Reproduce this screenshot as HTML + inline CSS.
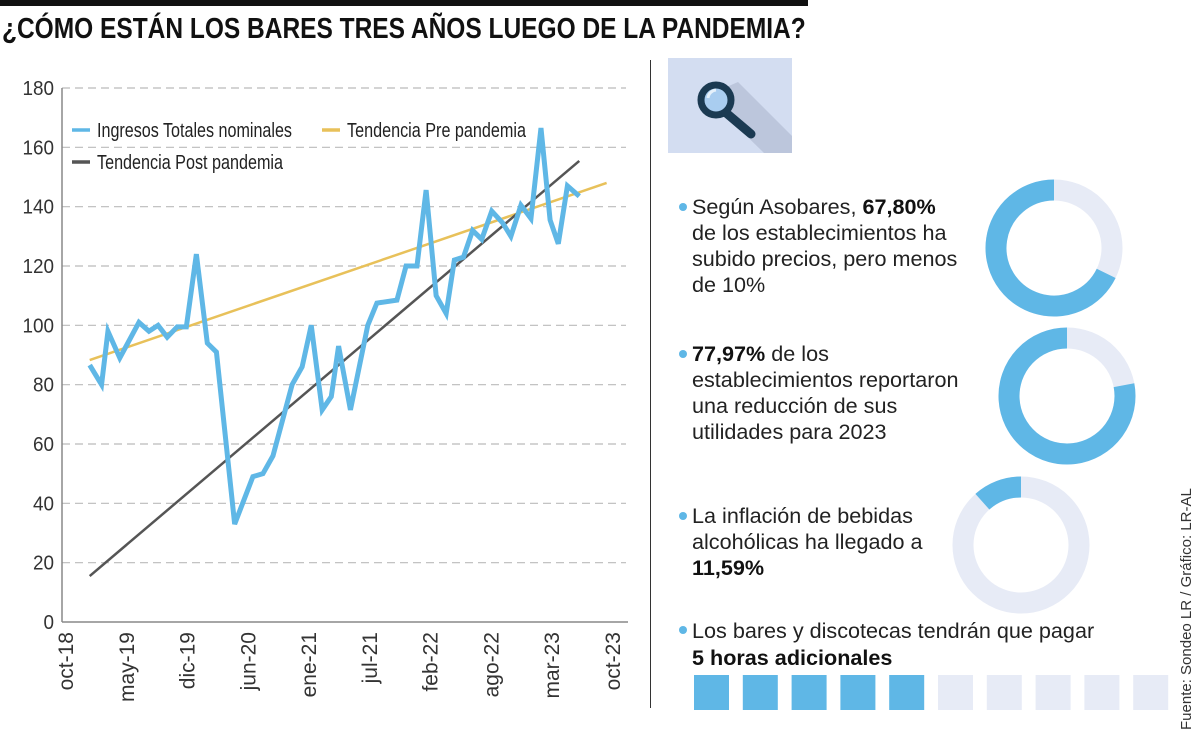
<!DOCTYPE html>
<html><head><meta charset="utf-8"><style>
body{margin:0;width:1200px;height:737px;background:#fff;overflow:hidden;font-family:"Liberation Sans",sans-serif;position:relative}
.t{position:absolute;font-size:21.6px;line-height:26px;color:#222;white-space:nowrap}
.t b{color:#111}
.dot{position:absolute;width:8px;height:8px;border-radius:50%;background:#5fb7e6}
</style></head><body>
<div style="position:absolute;left:0;top:0;width:808px;height:6px;background:#111"></div>
<div style="position:absolute;left:2px;top:13px;font-weight:bold;font-size:29px;color:#111;white-space:nowrap;transform:scaleX(0.845);transform-origin:left">¿CÓMO ESTÁN LOS BARES TRES AÑOS LUEGO DE LA PANDEMIA?</div>
<svg id="chart" width="650" height="737" style="position:absolute;left:0;top:0"></svg>
<div style="position:absolute;left:650px;top:60px;width:1px;height:648px;background:#333"></div>
<svg width="124" height="95" style="position:absolute;left:668px;top:58px">
<rect width="124" height="95" fill="#d3ddf1"/>
<polygon points="38,38 70,24 124,78 124,95 96,95 48,48" fill="#bcc6dc"/>
<line x1="50" y1="48" x2="83" y2="76" stroke="#1b3a52" stroke-width="9" stroke-linecap="round"/>
<circle cx="48" cy="42" r="15" fill="#a9cdf0" stroke="#1b3a52" stroke-width="7"/>
<path d="M40,40 a9,9 0 0 1 8,-8" stroke="#e6f1fb" stroke-width="3" fill="none"/>
</svg>

<div class="dot" style="left:679px;top:203px"></div>
<div class="t" style="left:692px;top:194px">Según Asobares, <b>67,80%</b><br>de los establecimientos ha<br>subido precios, pero menos<br>de 10%</div>
<div class="dot" style="left:679px;top:350px"></div>
<div class="t" style="left:692px;top:341px"><b>77,97%</b> de los<br>establecimientos reportaron<br>una reducción de sus<br>utilidades para 2023</div>
<div class="dot" style="left:679px;top:512px"></div>
<div class="t" style="left:692px;top:503px">La inflación de bebidas<br>alcohólicas ha llegado a<br><b>11,59%</b></div>
<div class="dot" style="left:679px;top:626px"></div>
<div class="t" style="left:692px;top:617px;line-height:27px">Los bares y discotecas tendrán que pagar<br><b>5 horas adicionales</b></div>
<svg id="right" width="1200" height="737" style="position:absolute;left:0;top:0;pointer-events:none"></svg>
<div style="position:absolute;left:1178px;top:730px;font-size:15px;color:#333;white-space:nowrap;transform:rotate(-90deg);transform-origin:left top;width:240px">Fuente: Sondeo LR / Gráfico: LR-AL</div>

<script>
const yTicks=[0,20,40,60,80,100,120,140,160,180];
const xTickLabels=["oct-18","may-19","dic-19","jun-20","ene-21","jul-21","feb-22","ago-22","mar-23","oct-23"];
const incomeMonths=[2.6,3.9,4.6,5.9,8.0,9.1,10.1,11.1,12.2,13.2,14.3,15.5,16.5,18.5,20.5,21.6,22.7,24.8,25.9,26.9,28.1,29.1,29.9,31.2,33.1,34.1,36.3,37.3,38.5,39.5,40.6,41.7,42.6,43.6,44.6,45.6,46.7,47.9,48.8,49.9,51.0,52.1,53.1,54.0,55.0,56.3];
const incomeValues=[86.6,80,98,89,101,98,100,96,99.5,99.5,124,94,91,33,49,50,56,80,86,100,71.5,76,93,71.5,100,107.5,108.5,120,120,145.6,110,104,122,123,132,129,138.5,134.5,130,140.5,136,166.5,135.5,127.5,147,143.5];
const preTrendMonths=[2.6,59.3];
const preTrendValues=[88.3,148];
const postTrendMonths=[2.6,56.3];
const postTrendValues=[15.5,155.4];
const donutShares=[67.80,77.97,11.59];
const hoursTotal=10, hoursExtra=5;

const NS="http://www.w3.org/2000/svg";
const svg=document.getElementById('chart');
function mk(tag,attrs,parent){const e=document.createElementNS(NS,tag);for(const k in attrs)e.setAttribute(k,attrs[k]);(parent||svg).appendChild(e);return e;}
const X0=66,X1=613,Y0=622,Y1=88;
const yS=v=>Y0-(v-0)/180*(Y0-Y1);
const xS=m=>X0+m*(X1-X0)/60;
const xTickPos=i=>X0+i*(X1-X0)/(xTickLabels.length-1);

yTicks.forEach(v=>{
  if(v>0){const g=mk('line',{x1:62,x2:626,y1:yS(v),y2:yS(v),stroke:'#bbb','stroke-width':1.2,'stroke-dasharray':'8,5'});
  
  }
  const t=mk('text',{x:54,y:yS(v)+7,'text-anchor':'end','font-size':20,fill:'#333',textLength:String(v).length*10.5,lengthAdjust:'spacingAndGlyphs'});
  t.textContent=v;
  
  
});
const ya=mk('line',{x1:62,x2:62,y1:Y1,y2:Y0,stroke:'#888','stroke-width':1.5});


const xa=mk('line',{x1:62,x2:628,y1:Y0,y2:Y0,stroke:'#888','stroke-width':1.5});


xTickLabels.forEach((l,i)=>{
  const x=xTickPos(i)+7;
  const t=mk('text',{x:x,y:632,'text-anchor':'end','font-size':21,fill:'#333',transform:`rotate(-90 ${x} 632)`});
  t.textContent=l;
  
  
});
function line(ms,vs,color,w,name){
  const p=mk('polyline',{points:ms.map((m,i)=>xS(m)+','+yS(vs[i])).join(' '),fill:'none',stroke:color,'stroke-width':w,'stroke-linejoin':'miter'});
  
  
}
line(preTrendMonths,preTrendValues,'#e8c15a',2.5,'pre-pandemic-trend');
line(postTrendMonths,postTrendValues,'#555',2.5,'post-pandemic-trend');
line(incomeMonths,incomeValues,'#5fb7e6',5,'income-line');
const legend=[['Ingresos Totales nominales','#5fb7e6',72,130,195],['Tendencia Pre pandemia','#e8c15a',322,130,179],['Tendencia Post pandemia','#555',72,162,186]];
legend.forEach(l=>{
  const m=mk('line',{x1:l[2],x2:l[2]+18,y1:l[3],y2:l[3],stroke:l[1],'stroke-width':3.5});
  
  
  const t=mk('text',{x:l[2]+25,y:l[3]+7,'font-size':20,fill:'#222',textLength:l[4],lengthAdjust:'spacingAndGlyphs'});
  t.textContent=l[0];
  
  
});

const rs=document.getElementById('right');
const centers=[[1054,248],[1067,396],[1021,545]];
donutShares.forEach((p,i)=>{
  const [cx,cy]=centers[i],r=58;
  const bg=mk('circle',{cx:cx,cy:cy,r:r,fill:'none',stroke:'#e7ebf6','stroke-width':21},rs);
  
  
  const a=-Math.PI/2-p/100*2*Math.PI;
  const large=p>50?1:0;
  const d=`M${cx},${cy-r} A${r},${r} 0 ${large} 0 ${cx+r*Math.cos(a)},${cy+r*Math.sin(a)}`;
  const arc=mk('path',{d:d,fill:'none',stroke:'#5fb7e6','stroke-width':21},rs);
  
  
});
for(let i=0;i<hoursTotal;i++){
  const s=mk('rect',{x:694+i*48.8,y:675,width:35,height:35,fill:i<hoursExtra?'#5fb7e6':'#e7ebf6'},rs);
  
  
}
</script>
</body></html>
